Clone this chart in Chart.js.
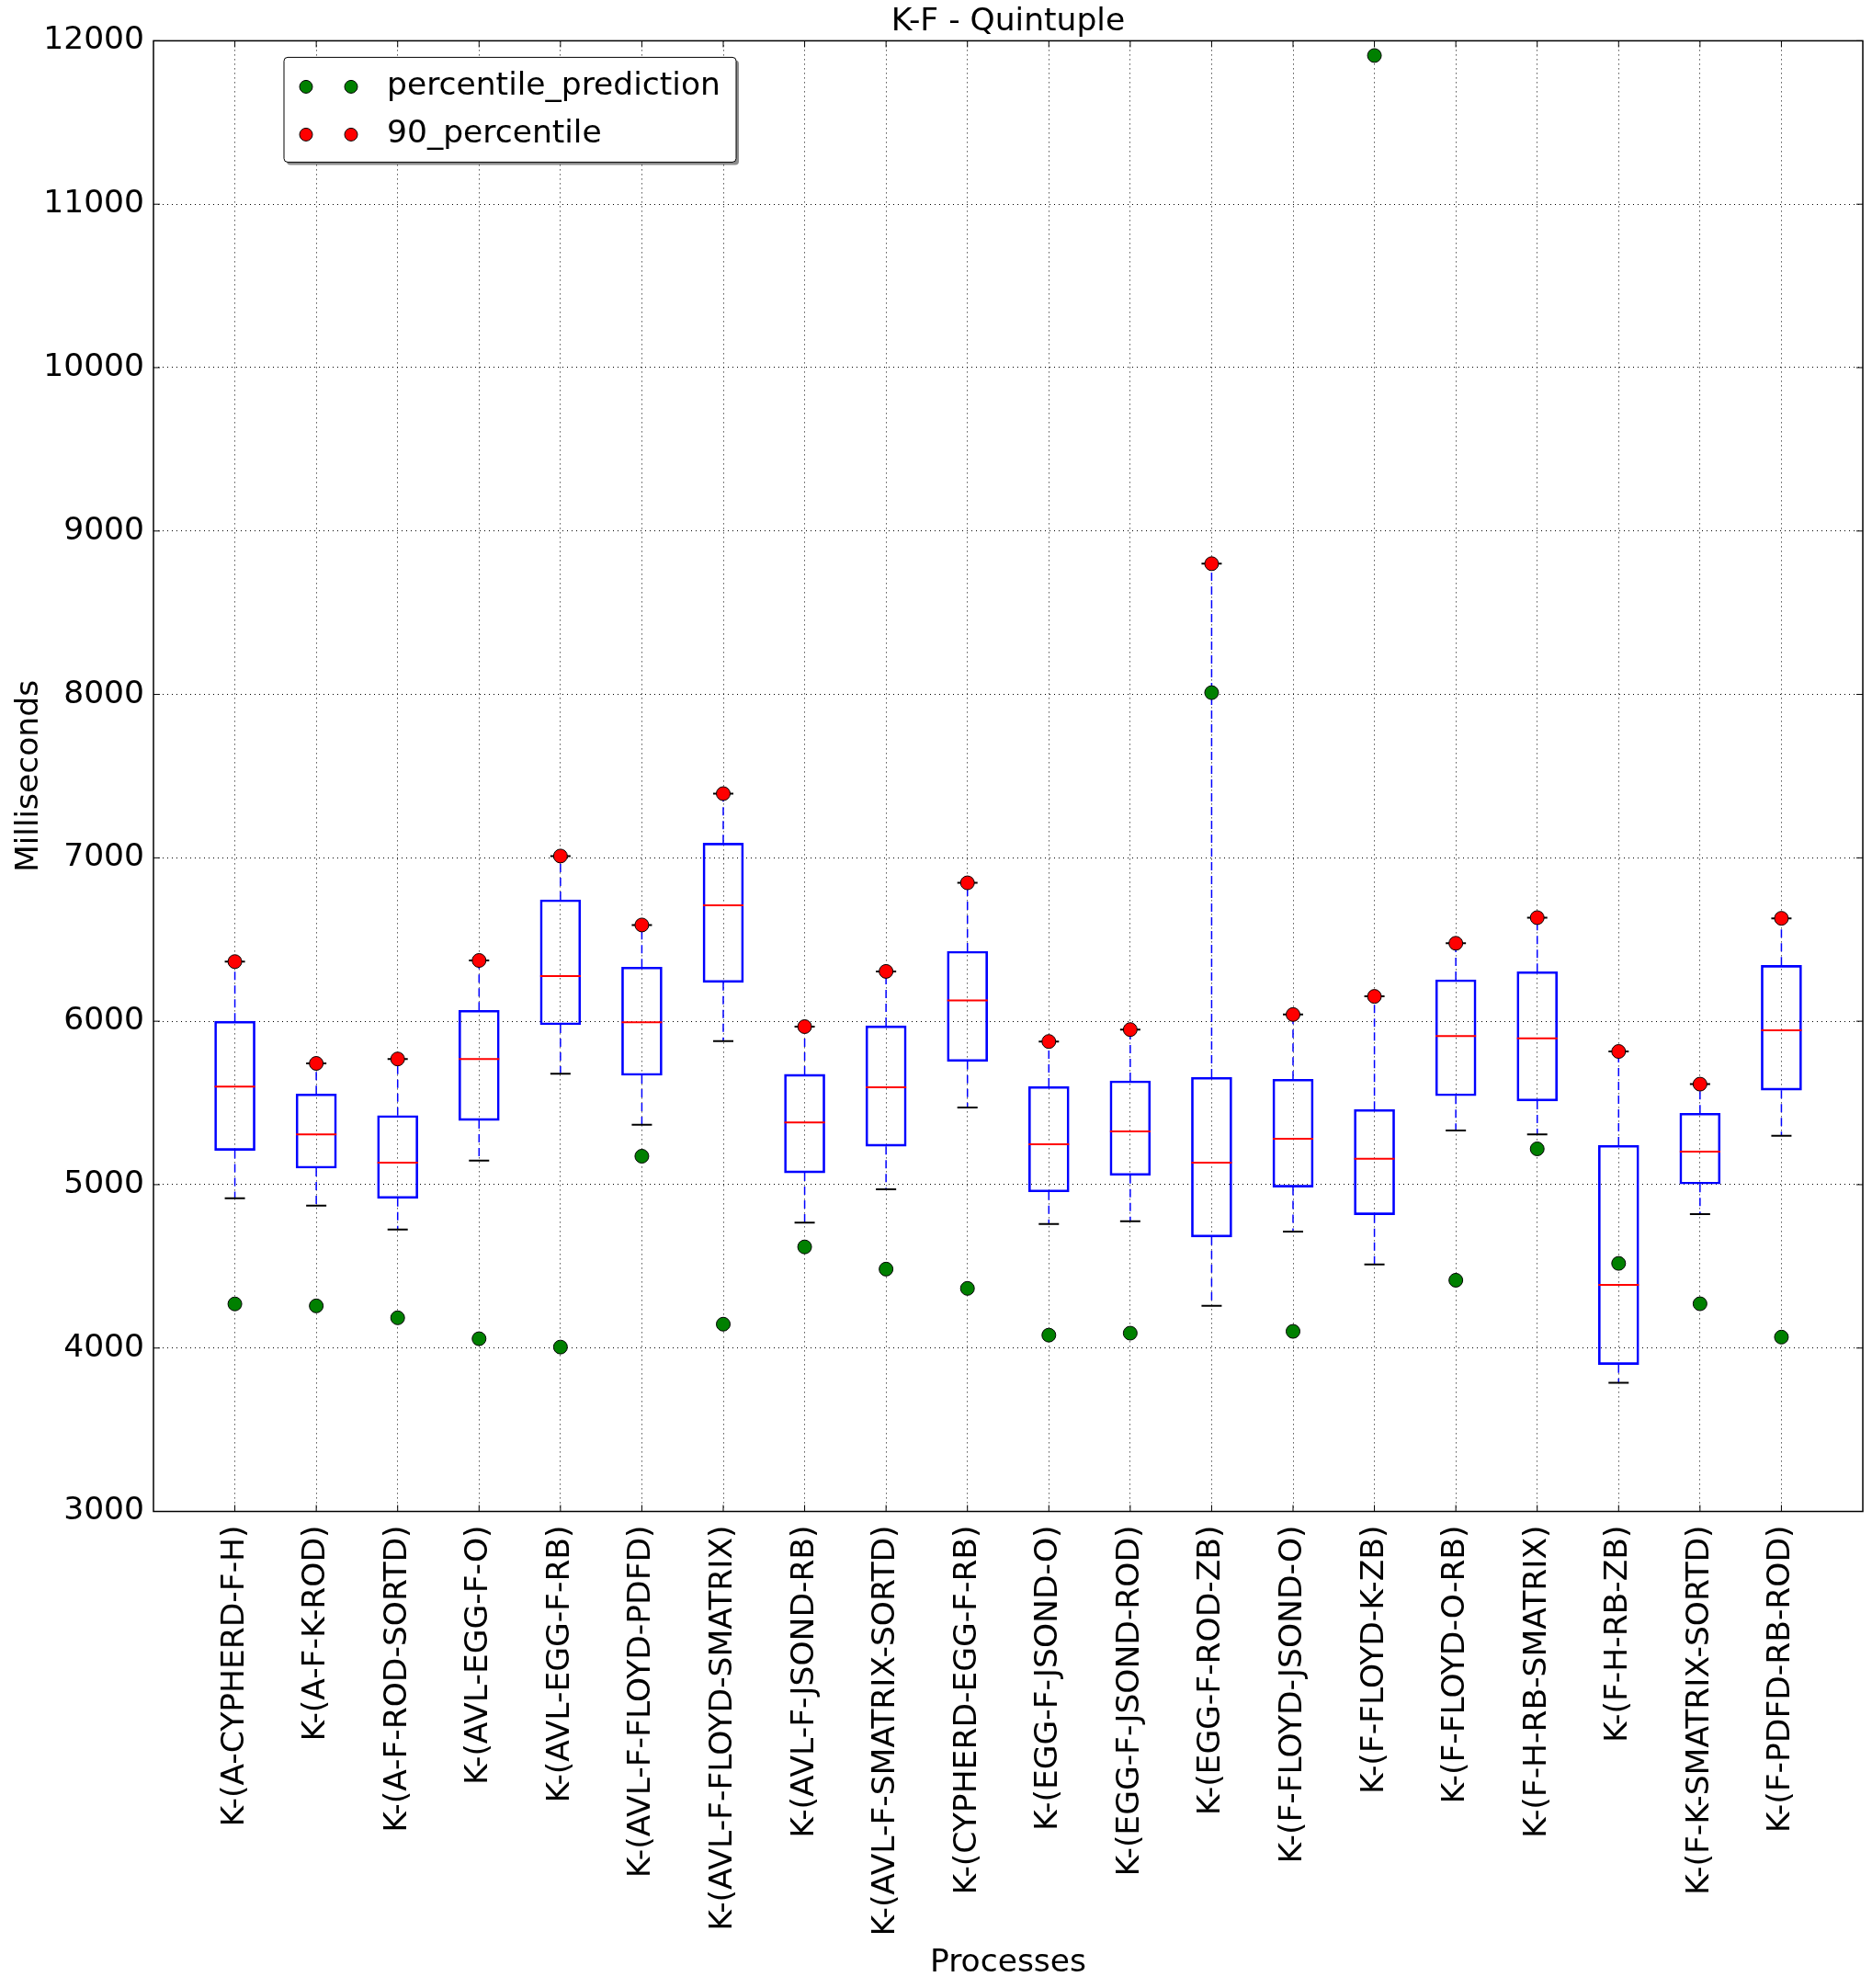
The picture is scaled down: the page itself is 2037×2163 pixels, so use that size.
<!DOCTYPE html>
<html>
<head>
<meta charset="utf-8">
<title>K-F - Quintuple</title>
<script src="https://cdn.jsdelivr.net/npm/chart.js@4.4.1/dist/chart.umd.min.js"></script>
<style>
    html, body { margin: 0; padding: 0; background: #fff; overflow: hidden; }
    #wrap { width: 2037px; height: 2163px; position: relative; }
    #boxChart { display: block; }
</style>
</head>
<body>
<div id="wrap"><canvas id="boxChart"></canvas></div>
<script>
// Dữ liệu

const categories = [
    'K-(A-CYPHERD-F-H)', 'K-(A-F-K-ROD)', 'K-(A-F-ROD-SORTD)', 'K-(AVL-EGG-F-O)',
    'K-(AVL-EGG-F-RB)', 'K-(AVL-F-FLOYD-PDFD)', 'K-(AVL-F-FLOYD-SMATRIX)', 'K-(AVL-F-JSOND-RB)',
    'K-(AVL-F-SMATRIX-SORTD)', 'K-(CYPHERD-EGG-F-RB)', 'K-(EGG-F-JSOND-O)', 'K-(EGG-F-JSOND-ROD)',
    'K-(EGG-F-ROD-ZB)', 'K-(F-FLOYD-JSOND-O)', 'K-(F-FLOYD-K-ZB)', 'K-(F-FLOYD-O-RB)',
    'K-(F-H-RB-SMATRIX)', 'K-(F-H-RB-ZB)', 'K-(F-K-SMATRIX-SORTD)', 'K-(F-PDFD-RB-ROD)'
];

const whiskerLow = [4916, 4871, 4725, 5147, 5679, 5367, 5878, 4767, 4971, 5472, 4759, 4776, 4258, 4713, 4512, 5331, 5308, 3787, 4819, 5299];
const q1         = [5210, 5101, 4916, 5393, 5978, 5669, 6238, 5072, 5235, 5754, 4956, 5057, 4680, 4985, 4816, 5544, 5512, 3899, 5004, 5578];
const median     = [5600, 5308, 5135, 5769, 6276, 5994, 6710, 5381, 5596, 6128, 5247, 5326, 5135, 5281, 5159, 5910, 5895, 4387, 5202, 5944];
const q3         = [6000, 5555, 5423, 6067, 6743, 6331, 7090, 5675, 5972, 6428, 5601, 5635, 5657, 5645, 5460, 6254, 6303, 5241, 5437, 6342];
// 90_percentile = upper whisker end
const ninetieth  = [6365, 5742, 5769, 6372, 7011, 6589, 7393, 5967, 6305, 6847, 5876, 5949, 8800, 6041, 6152, 6477, 6634, 5815, 5615, 6630];
const prediction = [4270, 4258, 4185, 4057, 4006, 5174, 4146, 4619, 4483, 4365, 4079, 4091, 8011, 4102, 11910, 4415, 5219, 4518, 4271, 4067];

const yTicks = [3000, 4000, 5000, 6000, 7000, 8000, 9000, 10000, 11000, 12000];

const FONT = 'DejaVu Sans';
const FS = 34.5;
Chart.defaults.font.family = FONT;
Chart.defaults.font.size = FS;
Chart.defaults.color = '#000';

function pointsOf(values) {
    return values.map((v, i) => ({ x: i + 1, y: v }));
}

function whiskerSegments() {
    const out = [];
    categories.forEach((c, i) => {
        const x = i + 1;
        out.push({ x, y: q3[i] }, { x, y: ninetieth[i] }, { x, y: null });
        out.push({ x, y: q1[i] }, { x, y: whiskerLow[i] }, { x, y: null });
    });
    return out;
}

// khung, vạch chia trong và chú thích kiểu matplotlib
const framePlugin = {
    id: 'frame',
    afterDraw(chart) {
        const { ctx, chartArea: a, scales } = chart;
        ctx.save();
        ctx.strokeStyle = '#000';
        ctx.lineWidth = 1;
        const t = 7;
        scales.y.ticks.forEach(tk => {
            const py = scales.y.getPixelForValue(tk.value);
            ctx.beginPath();
            ctx.moveTo(a.left, py); ctx.lineTo(a.left + t, py);
            ctx.moveTo(a.right, py); ctx.lineTo(a.right - t, py);
            ctx.stroke();
        });
        scales.x.ticks.forEach(tk => {
            const px = scales.x.getPixelForValue(tk.value);
            ctx.beginPath();
            ctx.moveTo(px, a.top); ctx.lineTo(px, a.top + t);
            ctx.moveTo(px, a.bottom); ctx.lineTo(px, a.bottom - t);
            ctx.stroke();
        });
        ctx.lineWidth = 1.5;
        ctx.strokeRect(a.left, a.top, a.right - a.left, a.bottom - a.top);

        // legend
        const lx = a.left + 142, ly = a.top + 18, lw = 492, lh = 114;
        ctx.fillStyle = 'rgba(0,0,0,0.45)';
        ctx.beginPath(); ctx.roundRect(lx + 3, ly + 3, lw, lh, 4); ctx.fill();
        ctx.fillStyle = '#fff';
        ctx.beginPath(); ctx.roundRect(lx, ly, lw, lh, 4); ctx.fill();
        ctx.lineWidth = 1;
        ctx.stroke();
        const items = [
            { label: 'percentile_prediction', color: '#008000' },
            { label: '90_percentile', color: '#ff0000' }
        ];
        ctx.font = FS + 'px "' + FONT + '"';
        ctx.textBaseline = 'middle';
        items.forEach((it, k) => {
            const cy = ly + 32 + k * 52;
            [24, 73].forEach(dx => {
                ctx.beginPath();
                ctx.ellipse(lx + dx, cy, 7, 7, 0, 0, Math.PI * 2);
                ctx.fillStyle = it.color;
                ctx.fill();
                ctx.strokeStyle = '#000';
                ctx.lineWidth = 1;
                ctx.stroke();
            });
            ctx.fillStyle = '#000';
            ctx.fillText(it.label, lx + 112, cy);
        });
        ctx.restore();
    }
};

function renderChart() {
    const ctx = document.getElementById('boxChart').getContext('2d');
    new Chart(ctx, {
        type: 'bar',
        data: {
            datasets: [
                {
                    label: 'percentile_prediction',
                    type: 'line',
                    data: pointsOf(prediction),
                    showLine: false,
                    pointRadius: 7.5,
                    pointBackgroundColor: '#008000',
                    pointBorderColor: '#000',
                    pointBorderWidth: 1,
                    order: 0
                },
                {
                    label: '90_percentile',
                    type: 'line',
                    data: pointsOf(ninetieth),
                    showLine: false,
                    pointRadius: 7.5,
                    pointBackgroundColor: '#ff0000',
                    pointBorderColor: '#000',
                    pointBorderWidth: 1,
                    order: 0
                },
                {
                    label: 'caps',
                    type: 'line',
                    data: pointsOf(whiskerLow).concat(pointsOf(ninetieth)),
                    showLine: false,
                    pointStyle: 'line',
                    pointRadius: 11,
                    pointBorderColor: '#000',
                    pointBorderWidth: 2,
                    order: 1
                },
                {
                    label: 'medians',
                    type: 'line',
                    data: pointsOf(median),
                    showLine: false,
                    pointStyle: 'line',
                    pointRadius: 22,
                    pointBorderColor: '#ff0000',
                    pointBorderWidth: 2,
                    order: 1
                },
                {
                    label: 'whiskers',
                    type: 'line',
                    data: whiskerSegments(),
                    spanGaps: false,
                    borderColor: '#0000ff',
                    borderWidth: 1.5,
                    borderDash: [9, 6],
                    pointRadius: 0,
                    fill: false,
                    order: 2
                },
                {
                    label: 'boxes',
                    data: categories.map((c, i) => ({ x: i + 1, y: [q1[i], q3[i]] })),
                    backgroundColor: 'rgba(0,0,0,0)',
                    borderColor: '#0000ff',
                    borderWidth: 2,
                    borderSkipped: false,
                    barThickness: 44,
                    order: 3
                }
            ]
        },
        options: {
            responsive: true,
            maintainAspectRatio: false,
            animation: false,
            events: [],
            layout: { autoPadding: false, padding: { left: 0, right: 10, top: 0, bottom: 0 } },
            plugins: {
                legend: { display: false },
                tooltip: { enabled: false },
                title: {
                    display: true,
                    text: 'K-F - Quintuple',
                    fullSize: false,
                    font: { size: FS, weight: 'normal' },
                    padding: { top: 3, bottom: 0 }
                }
            },
            scales: {
                x: {
                    type: 'linear',
                    min: 0,
                    max: 21,
                    offset: false,
                    afterBuildTicks: scale => {
                        scale.ticks = categories.map((c, i) => ({ value: i + 1 }));
                    },
                    afterFit: scale => {
                        scale.height = 518.5;
                        scale.paddingLeft = 0;
                        scale.paddingRight = 0;
                    },
                    grid: { color: '#000', lineWidth: 1, drawTicks: false, offset: false },
                    border: { display: false, dash: [1, 4] },
                    ticks: {
                        autoSkip: false,
                        minRotation: 90,
                        maxRotation: 90,
                        padding: 15,
                        callback: v => categories[v - 1] || ''
                    },
                    title: {
                        display: true,
                        text: 'Processes',
                        font: { size: FS },
                        padding: { top: 0, bottom: 6 }
                    }
                },
                y: {
                    min: 3000,
                    max: 12000,
                    afterBuildTicks: scale => {
                        scale.ticks = yTicks.map(v => ({ value: v }));
                    },
                    afterFit: scale => { scale.width = 167; },
                    grid: { color: '#000', lineWidth: 1, drawTicks: false },
                    border: { display: false, dash: [1, 4] },
                    ticks: {
                        padding: 10,
                        callback: v => String(v)
                    },
                    title: {
                        display: true,
                        text: 'Milliseconds',
                        font: { size: FS },
                        padding: { top: 11, bottom: 0 }
                    }
                }
            }
        },
        plugins: [framePlugin]
    });
}

document.addEventListener('DOMContentLoaded', () => {
    renderChart();
});
</script>
</body>
</html>
